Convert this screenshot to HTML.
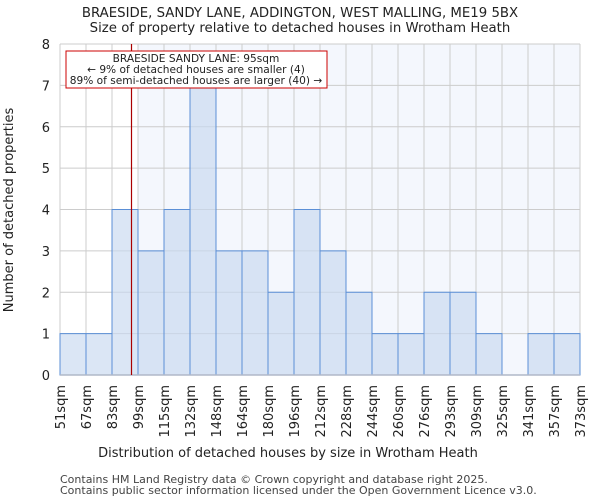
<!DOCTYPE html>
<html><head><meta charset="utf-8"><style>
body{margin:0;background:#fff;font-family:"DejaVu Sans","Liberation Sans",sans-serif}
svg text{font-family:"DejaVu Sans","Liberation Sans",sans-serif}
</style></head><body>
<svg id="c" width="600" height="500">
<text x="300" y="17" font-size="13.3" text-anchor="middle" fill="#222">BRAESIDE, SANDY LANE, ADDINGTON, WEST MALLING, ME19 5BX</text>
<text x="300" y="32" font-size="13.3" text-anchor="middle" fill="#222">Size of property relative to detached houses in Wrotham Heath</text>
<g id="plot"></g>
<text x="288" y="457" font-size="13" text-anchor="middle" fill="#222">Distribution of detached houses by size in Wrotham Heath</text>
<text transform="translate(13,210) rotate(-90)" font-size="13" text-anchor="middle" fill="#222">Number of detached properties</text>
<text x="60" y="483" font-size="11" fill="#444">Contains HM Land Registry data © Crown copyright and database right 2025.</text>
<text x="60" y="494" font-size="11" fill="#444">Contains public sector information licensed under the Open Government Licence v3.0.</text>
</svg>
<script>
const binLabels=["51sqm","67sqm","83sqm","99sqm","115sqm","132sqm","148sqm","164sqm","180sqm","196sqm","212sqm","228sqm","244sqm","260sqm","276sqm","293sqm","309sqm","325sqm","341sqm","357sqm","373sqm"];
const binEdges=[51,67,83,99,115,132,148,164,180,196,212,228,244,260,276,293,309,325,341,357,373];
const counts=[1,1,4,3,4,7,3,3,2,4,3,2,1,1,2,2,1,0,1,1];
const yTicks=[0,1,2,3,4,5,6,7,8];
const propertySize=95;
const L=60,R=580,T=44,B=375,NS="http://www.w3.org/2000/svg";
const n=counts.length,bw=(R-L)/n;
const xi=i=>L+i*bw;
const xv=v=>{let i=0;while(i<binEdges.length-2&&v>binEdges[i+1])i++;return xi(i)+bw*(v-binEdges[i])/(binEdges[i+1]-binEdges[i]);};
const y=v=>B-(B-T)*v/8;
const g=document.getElementById('plot');
function mk(t,a){const e=document.createElementNS(NS,t);for(const k in a)e.setAttribute(k,a[k]);g.appendChild(e);return e;}
let e=mk('rect',{x:L,y:T,width:R-L,height:B-T,fill:'#fff'});


e=mk('rect',{x:xi(3),y:T,width:R-xi(3),height:B-T,fill:'#f4f7fd'});


yTicks.forEach(t=>{
 let l=mk('line',{x1:L,x2:R,y1:y(t),y2:y(t),stroke:'#cccccc','stroke-width':1});
 
 
 let tx=mk('text',{x:L-10,y:y(t)+5,'font-size':13,'text-anchor':'end',fill:'#222'});tx.textContent=t;
 
 
});
binLabels.forEach((s,i)=>{
 let l=mk('line',{x1:xi(i),x2:xi(i),y1:T,y2:B,stroke:'#cccccc','stroke-width':1});
 
 
 let tx=mk('text',{transform:`translate(${xi(i)+5},${B+10}) rotate(-90)`,'font-size':13,'text-anchor':'end',fill:'#222'});tx.textContent=s;
 
 
});
counts.forEach((c,i)=>{
 if(c<=0)return;
 let r=mk('rect',{x:xi(i),y:y(c),width:bw,height:B-y(c),fill:'rgba(200,216,240,0.65)',stroke:'#5b8fd6','stroke-width':1});
 
 
});
e=mk('line',{x1:L,x2:R,y1:B,y2:B,stroke:'#b0b8c8','stroke-width':1.5});


const px=xv(propertySize);
e=mk('line',{x1:px,x2:px,y1:T,y2:B,stroke:'#aa0000','stroke-width':1.2});


e=mk('rect',{x:66,y:51,width:261,height:37,fill:'#fff',stroke:'#cc0000','stroke-width':1});


[["BRAESIDE SANDY LANE: 95sqm",62],["← 9% of detached houses are smaller (4)",73],["89% of semi-detached houses are larger (40) →",84]].forEach((a,k)=>{
 let tx=mk('text',{x:196,y:a[1],'font-size':10.6,'text-anchor':'middle',fill:'#222'});tx.textContent=a[0];
 
 
});
</script>
</body></html>
